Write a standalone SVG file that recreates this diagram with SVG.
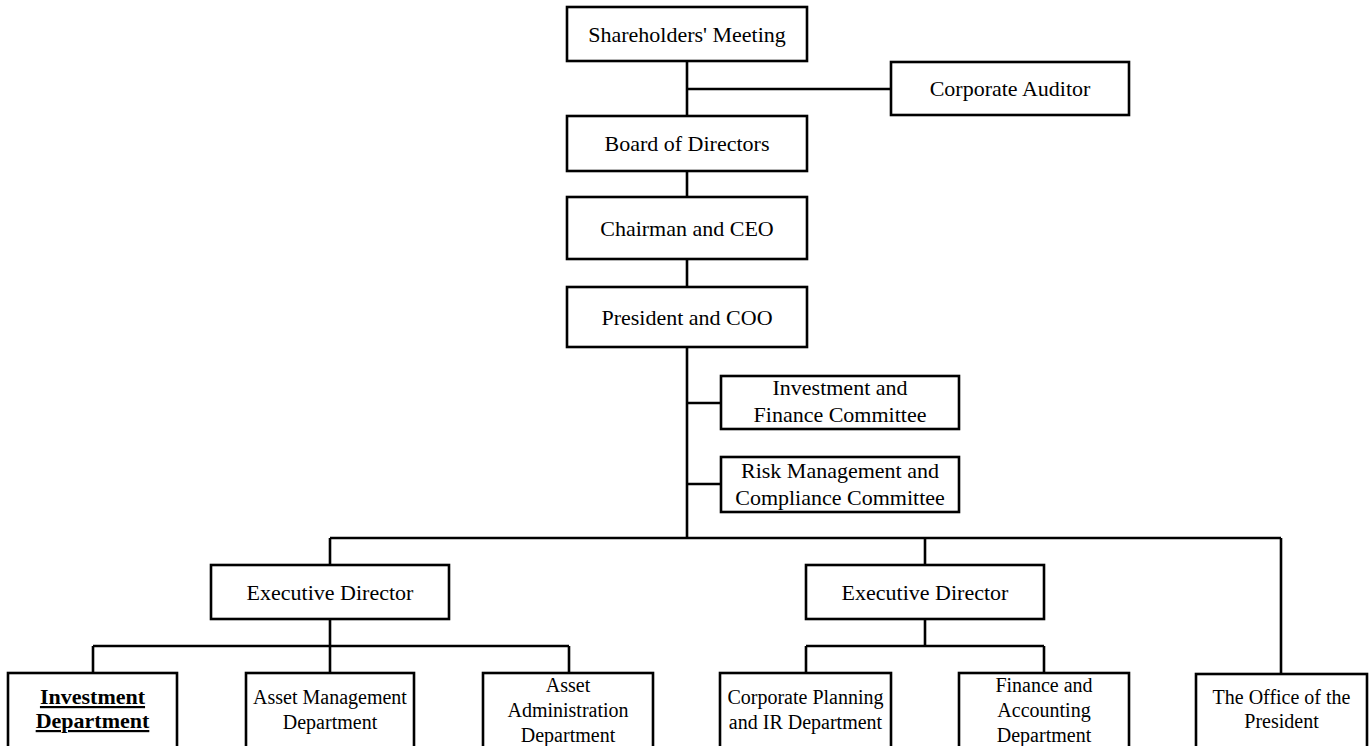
<svg xmlns="http://www.w3.org/2000/svg" width="1372" height="746" viewBox="0 0 1372 746">
<style>
.box{fill:#fff;stroke:#000;stroke-width:2.6}
.ln{fill:none;stroke:#000;stroke-width:2.6}
text{font-family:"Liberation Serif","Times New Roman",serif;fill:#000;text-anchor:middle}
.t22{font-size:22px}
.t20{font-size:20px}
.bold{font-size:22px;font-weight:bold;text-decoration:underline}
</style>
<rect width="1372" height="746" fill="#fff"/>
<g id="connectors">
<path class="ln" d="M687 61V116M687 89H891M687 171V197M687 259V287M687 347V538M687 403H721M687 484H721"/>
<path class="ln" d="M330 538H1281M330 538V565M925 538V565M1281 538V674"/>
<path class="ln" d="M330 619V646M93 646H569M93 646V673M330 646V673M569 646V673"/>
<path class="ln" d="M925 619V646M806 646H1044M806 646V673M1044 646V673"/>
</g>
<g id="shareholders"><rect class="box" x="567" y="7" width="240" height="54"/><text class="t22" x="687" y="42">Shareholders' Meeting</text></g>
<g id="auditor"><rect class="box" x="891" y="62" width="238" height="53"/><text class="t22" x="1010" y="96">Corporate Auditor</text></g>
<g id="board"><rect class="box" x="567" y="116" width="240" height="55"/><text class="t22" x="687" y="151">Board of Directors</text></g>
<g id="chairman"><rect class="box" x="567" y="197" width="240" height="62"/><text class="t22" x="687" y="236">Chairman and CEO</text></g>
<g id="president"><rect class="box" x="567" y="287" width="240" height="60"/><text class="t22" x="687" y="325">President and COO</text></g>
<g id="ifc"><rect class="box" x="721" y="376" width="238" height="53"/><text class="t22" x="840" y="395">Investment and</text><text class="t22" x="840" y="422">Finance Committee</text></g>
<g id="rmcc"><rect class="box" x="721" y="457" width="238" height="55"/><text class="t22" x="840" y="478">Risk Management and</text><text class="t22" x="840" y="505">Compliance Committee</text></g>
<g id="exec1"><rect class="box" x="211" y="565" width="238" height="54"/><text class="t22" x="330" y="600">Executive Director</text></g>
<g id="exec2"><rect class="box" x="806" y="565" width="238" height="54"/><text class="t22" x="925" y="600">Executive Director</text></g>
<g id="invdept"><rect class="box" x="8" y="673" width="169" height="76"/><text class="bold" x="92.5" y="704">Investment</text><text class="bold" x="92.5" y="728">Department</text></g>
<g id="amdept"><rect class="box" x="246" y="673" width="168" height="76"/><text class="t20" x="330" y="704">Asset Management</text><text class="t20" x="330" y="729">Department</text></g>
<g id="aadept"><rect class="box" x="483" y="673" width="170" height="76"/><text class="t20" x="568" y="692">Asset</text><text class="t20" x="568" y="717">Administration</text><text class="t20" x="568" y="742">Department</text></g>
<g id="cpdept"><rect class="box" x="720" y="673" width="171" height="76"/><text class="t20" x="805.5" y="704">Corporate Planning</text><text class="t20" x="805.5" y="729">and IR Department</text></g>
<g id="fadept"><rect class="box" x="959" y="673" width="170" height="76"/><text class="t20" x="1044" y="692">Finance and</text><text class="t20" x="1044" y="717">Accounting</text><text class="t20" x="1044" y="742">Department</text></g>
<g id="office"><rect class="box" x="1196" y="674" width="171" height="75"/><text class="t20" x="1281.5" y="704">The Office of the</text><text class="t20" x="1281.5" y="728">President</text></g>
</svg>
